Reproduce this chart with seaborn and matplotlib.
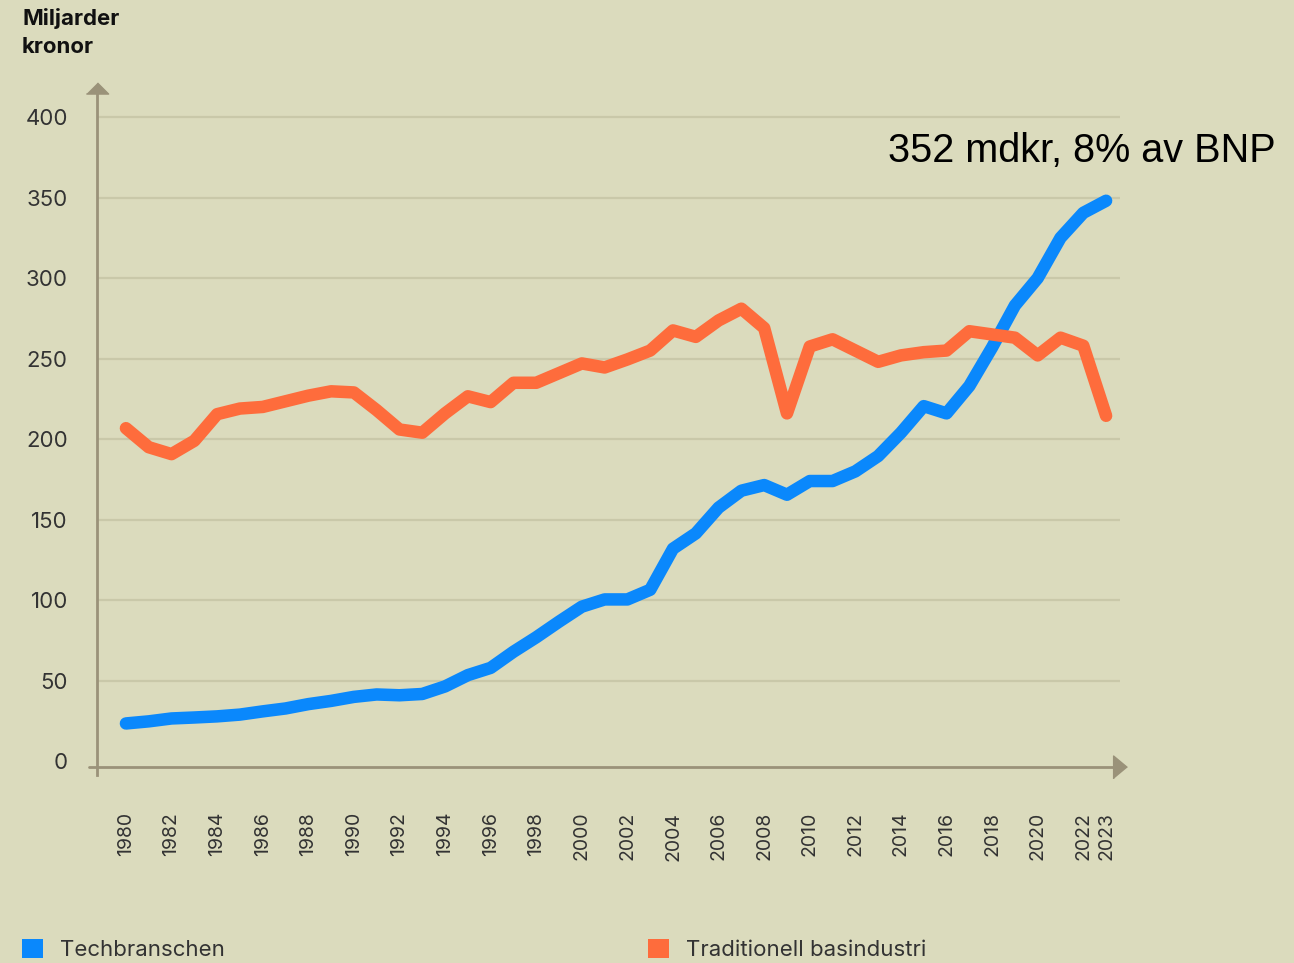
import numpy as np
import pandas as pd
import matplotlib
matplotlib.use("Agg")
import matplotlib.pyplot as plt
from matplotlib.patches import Patch
import seaborn as sns

years = list(range(1980, 2024))
tech = [23.5, 24.8, 26.6, 27.2, 27.9, 29.0, 31.0, 32.8, 35.5, 37.5, 40.0, 41.5, 41.0, 41.8,
        46.5, 53.5, 58.0, 68.0, 77.0, 86.7, 96.0, 100.5, 100.5, 106.5, 132.0, 141.5, 157.5,
        168.0, 171.5, 165.5, 174.0, 174.0, 180.0, 189.5, 204.0, 220.5, 216.0, 233.0, 257.0,
        283.0, 300.0, 325.0, 340.5, 348.0]
basind = [206.8, 195.0, 190.7, 199.0, 215.5, 219.0, 220.0, 223.5, 227.0, 229.7, 229.0, 218.0,
          206.0, 204.0, 216.0, 226.6, 223.0, 235.0, 235.0, 241.0, 247.0, 244.5, 249.5, 255.0,
          267.5, 263.5, 273.7, 281.0, 269.0, 216.0, 257.5, 262.0, 255.0, 248.0, 252.0, 254.0,
          255.0, 267.0, 265.0, 263.0, 252.0, 263.0, 258.0, 214.5]
series_names = ["Techbranschen", "Traditionell basindustri"]
colors = ["#0a88fc", "#fe6c3c"]
xtick_years = list(range(1980, 2023, 2)) + [2023]
ytick_vals = list(range(0, 401, 50))
ylabel_text = "Miljarder\nkronor"
note_text = "352 mdkr, 8% av BNP"

df = pd.DataFrame({
    "year": years * 2,
    "value": tech + basind,
    "series": [series_names[0]] * len(years) + [series_names[1]] * len(years),
})

BG = "#dbdbbd"
AXC = "#9a9279"
GRID = "#c9c8a9"
TXT = "#333333"

sns.set_style("white", {"axes.facecolor": BG, "figure.facecolor": BG})
plt.rcParams["font.family"] = ["Inter", "DejaVu Sans"]

fig = plt.figure(figsize=(12.94, 9.63), dpi=100)
ax = fig.add_axes([97 / 1294, (963 - 775) / 963, (1120 - 97) / 1294, (775 - 88) / 963])
ax.set_facecolor(BG)

sns.lineplot(data=df, x="year", y="value", hue="series", hue_order=series_names,
             palette=colors, linewidth=9, legend=False, ax=ax)
for ln in ax.lines:
    ln.set_solid_capstyle("round")
    ln.set_solid_joinstyle("round")

ax.set_xlim(1978.73, 2023.61)
ax.set_ylim(-8.5, 418)
ax.set_yticks(ytick_vals)
ax.set_yticklabels([str(v) for v in ytick_vals], fontsize=16, color=TXT)
ax.set_xticks(xtick_years)
ax.set_xticklabels([str(y) for y in xtick_years], rotation=90, fontsize=14, color=TXT)
ax.tick_params(axis="y", length=0, pad=21)
ax.tick_params(axis="x", length=0, pad=26.5)
ax.set_xlabel("")
ax.set_ylabel("")

ax.grid(axis="y", color=GRID, linewidth=1.6)
ax.grid(axis="x", visible=False)
ax.yaxis.get_gridlines()[0].set_visible(False)
ax.set_axisbelow(True)

for s in ["top", "right", "bottom"]:
    ax.spines[s].set_visible(False)
ax.spines["left"].set_color(AXC)
ax.spines["left"].set_linewidth(2)

# x axis line slightly below zero, with arrow
ax.axhline(-3.35, xmin=-0.008, xmax=1, color=AXC, linewidth=2, clip_on=False, zorder=1)
ax.plot([1], [-3.35], transform=ax.get_yaxis_transform(), marker=[(-0.3, -0.5), (-0.3, 0.5), (0.3, 0)],
        ms=16.5, color=AXC, mec=AXC, clip_on=False, linestyle="none")
# y axis arrow
ax.plot([0], [1], transform=ax.transAxes, marker=[(-1, -0.5), (1, -0.5), (0, 0.5)],
        ms=16, color=AXC, mec=AXC, clip_on=False, linestyle="none")

fig.text(22 / 1294, 1 - 8 / 963, ylabel_text, fontsize=16, fontweight="bold",
         color="#111111", va="top", ha="left", linespacing=1.5)

fig.text(888 / 1294, 1 - 162 / 963, note_text, fontsize=28.5, color="#000000",
         family=["Liberation Sans", "DejaVu Sans"], va="baseline", ha="left")

leg_x = [22 / 1294, 648 / 1294]
for name, col, lx in zip(series_names, colors, leg_x):
    fig.legend(handles=[Patch(facecolor=col, edgecolor="none", label=name)],
               loc="lower left", bbox_to_anchor=(lx, 0.003), frameon=False,
               fontsize=16, handlelength=0.95, handleheight=1.0, handletextpad=0.75,
               borderpad=0, borderaxespad=0, labelcolor=TXT)

fig.savefig("out.png", dpi=100, facecolor=BG)
